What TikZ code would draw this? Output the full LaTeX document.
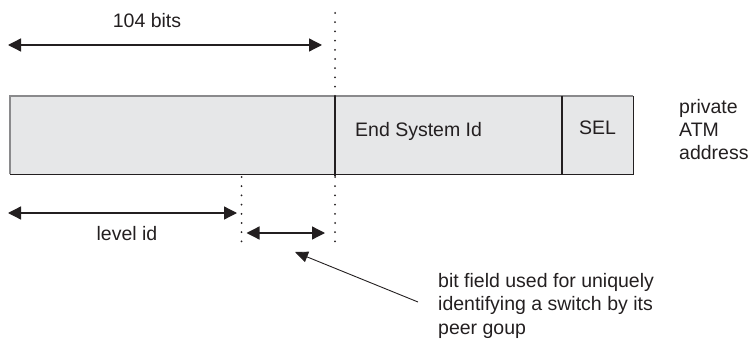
\documentclass[tikz,border=0pt]{standalone}
\usepackage{fontspec}
\setmainfont{Liberation Sans}
\usetikzlibrary{arrows.meta}
\definecolor{ink}{HTML}{231F20}
\definecolor{fieldfill}{HTML}{E6E7E8}
\definecolor{edgegray}{HTML}{8A8A8C}
\tikzset{
  field/.style={rectangle, fill=fieldfill, draw=none, inner sep=0pt,
    minimum height=78pt, anchor=north west},
  lbl/.style={text=ink, inner sep=0pt, font=\fontsize{19.5}{23.5}\selectfont},
  dimarrow/.style={draw=ink, line width=1.3pt,
    {Triangle[length=13pt,width=13pt]}-{Triangle[length=13pt,width=13pt]}},
  pointer/.style={draw=ink, line width=0.9pt, -{Triangle[length=13pt,width=11pt]}},
  dotline/.style={draw=ink, line width=2pt, line cap=round,
    dash pattern=on 0pt off 9.2pt},
  solidedge/.style={draw=ink, line width=1.5pt},
  softedge/.style={draw=edgegray, line width=1.5pt},
}
\begin{document}
\begin{tikzpicture}[x=1pt,y=-1pt]
\useasboundingbox (0,0) rectangle (752,342);

% the three fields of the address
\node[field, minimum width=325pt] (prefix) at (10,96) {};
\node[field, minimum width=227pt] (esid) at (335,96) {};
\node[field, minimum width=71pt] (sel) at (562,96) {};

% outline: lighter on top and left, darker on bottom and right
\draw[softedge] (prefix.south west) -- (prefix.north west) -- (sel.north east);
\draw[solidedge] (prefix.south west) -- (sel.south east) -- (sel.north east);
\draw[solidedge] (esid.north west) -- ([yshift=-2pt]esid.south west);
\draw[solidedge] (sel.north west) -- (sel.south west);

% field labels
\node[lbl, anchor=base west] (esidtext) at (355,136.5) {End System Id};
\node[lbl, anchor=base] (seltext) at (597.5,135) {SEL};
% multi-line labels: base anchor sits on the last line
\node[lbl, anchor=base west, align=left] (addrtext) at (679,160)
  {private\\ATM\\address};

% dotted marker lines
\coordinate (boundtop) at (335,13);
\coordinate (boundmid) at (335,177);
\coordinate (boundbot) at (335,242);
\coordinate (levtop) at (241.5,177);
\coordinate (levbot) at (241.5,242);
\draw[dotline] (boundtop) -- (esid.north west);
\draw[dotline] (boundmid) -- (boundbot);
\draw[dotline] (levtop) -- (levbot);

% 104 bits span
\coordinate (bitsL) at (8,45);
\coordinate (bitsR) at (322,45);
\draw[dimarrow] (bitsL) -- (bitsR);
\node[lbl, anchor=base] (bitstext) at (147,28) {104 bits};

% level id span
\coordinate (levL) at (8,213);
\coordinate (levR) at (237,213);
\draw[dimarrow] (levL) -- (levR);
\node[lbl, anchor=base] (levtext) at (127,240) {level id};

% switch bit field span
\coordinate (swL) at (246.5,233);
\coordinate (swR) at (325,233);
\draw[dimarrow] (swL) -- (swR);

% explanatory note with pointer
\node[lbl, anchor=base west, align=left] (note) at (438,334)
  {bit field used for uniquely\\identifying a switch by its\\peer goup};
\coordinate (ptrstart) at (418,302);
\coordinate (ptrend) at (295,252);
\draw[pointer] (ptrstart) -- (ptrend);
\end{tikzpicture}
\end{document}
